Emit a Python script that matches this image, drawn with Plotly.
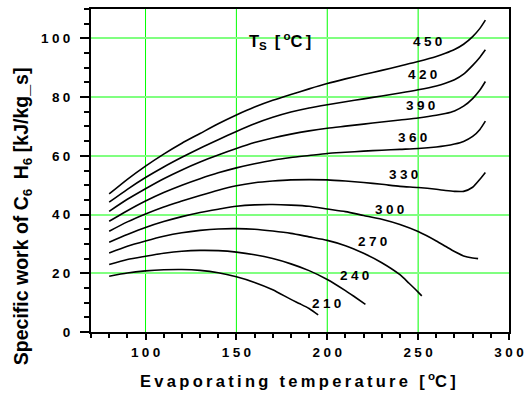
import plotly.graph_objects as go

# Saturation temperatures of the curve family [°C]
ts_levels = [210, 240, 270, 300, 330, 360, 390, 420, 450]

# Evaporating temperature [°C] and specific work [kJ/kg_s] for each Ts
evap_210 = [80, 90, 100, 110, 120, 130, 140, 150, 160, 170, 180, 185, 190, 195]
work_210 = [19.0, 20.1, 20.8, 21.2, 21.3, 21.0, 20.2, 18.8, 16.9, 14.4, 11.1, 9.6, 8.0, 5.8]

evap_240 = [80, 90, 100, 110, 120, 130, 140, 150, 160, 170, 180, 190, 200, 210, 215, 221]
work_240 = [23.0, 24.7, 25.8, 26.8, 27.5, 27.8, 27.7, 27.2, 26.3, 25.0, 23.2, 20.9, 17.9, 14.1, 12.0, 9.4]

evap_270 = [80, 90, 100, 110, 120, 130, 140, 150, 160, 170, 180, 190, 200, 210, 220, 230, 240, 245, 250, 252]
work_270 = [26.9, 29.2, 31.0, 32.6, 33.8, 34.6, 35.1, 35.2, 35.0, 34.4, 33.6, 32.4, 31.2, 29.4, 26.8, 23.6, 19.5, 16.6, 13.6, 12.3]

evap_300 = [80, 90, 100, 110, 120, 130, 140, 150, 160, 170, 180, 190, 200, 210, 220, 230, 240, 250, 260, 265, 270, 275, 280, 283]
work_300 = [30.6, 33.2, 35.6, 37.6, 39.3, 40.7, 41.8, 42.8, 43.3, 43.4, 43.2, 42.8, 41.9, 41.0, 39.7, 38.4, 36.6, 34.2, 31.0, 29.2, 27.4, 25.9, 25.2, 25.0]

evap_high = [80, 90, 100, 110, 120, 130, 140, 150, 160, 170, 180, 190, 200, 210, 220, 230, 240, 250, 260, 265, 270, 275, 280, 284, 287]
work_330 = [34.3, 37.5, 40.2, 42.6, 44.6, 46.5, 48.3, 49.8, 50.8, 51.4, 51.8, 51.9, 51.8, 51.4, 50.9, 50.3, 49.6, 49.2, 48.6, 48.2, 47.9, 47.9, 49.3, 52.0, 54.3]
work_360 = [37.7, 41.3, 44.6, 47.5, 50.0, 52.2, 54.2, 55.9, 57.3, 58.5, 59.4, 60.1, 60.8, 61.2, 61.6, 61.9, 62.2, 62.5, 63.0, 63.4, 64.0, 64.9, 66.6, 69.0, 71.8]
work_390 = [41.1, 45.2, 48.8, 52.2, 55.2, 57.9, 60.3, 62.5, 64.5, 66.1, 67.4, 68.5, 69.4, 70.1, 70.8, 71.5, 72.2, 72.9, 73.8, 74.4, 75.3, 76.9, 79.5, 82.4, 85.3]
work_420 = [44.2, 48.6, 52.6, 56.2, 59.5, 62.6, 65.5, 68.3, 70.9, 73.1, 74.9, 76.3, 77.4, 78.4, 79.4, 80.4, 81.4, 82.5, 83.8, 84.7, 85.9, 87.8, 90.8, 93.6, 96.1]
work_450 = [47.0, 52.0, 56.5, 60.6, 64.3, 67.6, 70.9, 73.9, 76.6, 78.9, 80.9, 82.8, 84.6, 86.2, 87.7, 89.1, 90.6, 92.1, 93.8, 94.9, 96.2, 98.0, 100.6, 103.4, 106.2]

x_ticks = [100, 150, 200, 250, 300]
y_ticks = [0, 20, 40, 60, 80, 100]

curves = {
    210: (evap_210, work_210),
    240: (evap_240, work_240),
    270: (evap_270, work_270),
    300: (evap_300, work_300),
    330: (evap_high, work_330),
    360: (evap_high, work_360),
    390: (evap_high, work_390),
    420: (evap_high, work_420),
    450: (evap_high, work_450),
}

# Where each Ts label sits (axis units)
label_anchor = {
    210: (199.7, 9.6), 240: (215.2, 19.2), 270: (224.8, 30.8),
    300: (234.3, 41.8), 330: (242.1, 53.7), 360: (247.0, 66.1),
    390: (251.2, 77.2), 420: (252.5, 87.6), 450: (255.2, 98.9),
}

FONT = "Liberation Sans, Arial, sans-serif"
THIN = "\u2009"
QUARTER = "\u2005"
GREEN = "#00ff00"


def spaced(s, sep=THIN):
    return sep.join(s)


fig = go.Figure()

# vertical grid lines at the major x ticks
for xv in x_ticks[:-1]:
    fig.add_shape(type="line", xref="x", yref="paper", x0=xv, x1=xv, y0=0, y1=1,
                  line=dict(color=GREEN, width=1), layer="below")

for ts in ts_levels:
    xs, ys = curves[ts]
    fig.add_trace(go.Scatter(
        x=xs, y=ys, mode="lines",
        line=dict(color="black", width=1.6, shape="spline", smoothing=0.7),
        showlegend=False, hoverinfo="skip",
    ))
    lx, ly = label_anchor[ts]
    fig.add_annotation(
        x=lx, y=ly, xref="x", yref="y", text="<b>" + spaced(str(ts), QUARTER) + "</b>",
        showarrow=False, font=dict(family=FONT, size=13.5, color="black"),
    )

# Curve-family caption
fig.add_annotation(
    x=174.1, y=99.0, xref="x", yref="y",
    text="<b>T<sub>S</sub>" + THIN + " [" + THIN + "<sup>o</sup>C" + THIN + "]</b>",
    showarrow=False, font=dict(family=FONT, size=16.5, color="black"),
)

# Axis titles
x_title = ("<b>" + spaced("Evaporating") + THIN + " " + THIN + spaced("temperature")
           + THIN + " " + THIN + "[" + THIN + "<sup>o</sup>C" + THIN + "]</b>")
fig.add_annotation(
    x=0.496, y=-(380 - 332) / (332 - 7), xref="paper", yref="paper",
    xanchor="center", yanchor="middle", text=x_title, showarrow=False,
    font=dict(family=FONT, size=16.5, color="black"),
)
fig.add_annotation(
    x=-(91 - 22) / (512 - 91), y=(332 - 215) / (332 - 7), xref="paper", yref="paper",
    xanchor="center", yanchor="middle", textangle=-90,
    text="<b>Specific work of C<sub>6</sub>" + THIN + " H<sub>6</sub> [kJ/kg_s]</b>",
    showarrow=False, font=dict(family=FONT, size=19.5, color="black"),
)

axis_common = dict(
    showline=True, linecolor="black", linewidth=2, mirror=True,
    ticks="outside", tickcolor="black", tickwidth=1.5,
    zeroline=False,
    tickfont=dict(family=FONT, size=13.5, color="black", weight="bold"),
)

fig.update_xaxes(
    **axis_common, range=[70, 300], showgrid=False,
    tickvals=x_ticks, ticktext=[spaced(str(v), QUARTER) for v in x_ticks],
    ticklen=6,
    minor=dict(tick0=70, dtick=10, ticks="outside", ticklen=4, tickcolor="black", tickwidth=1.5, showgrid=False),
    ticklabelstandoff=1,
)
fig.update_yaxes(
    **axis_common, range=[0, 110], showgrid=True,
    tickvals=y_ticks, ticktext=[spaced(str(v), QUARTER) for v in y_ticks],
    ticklen=9, gridcolor="#80ff80", gridwidth=2,
    minor=dict(tick0=0, dtick=5, ticks="outside", ticklen=5, tickcolor="black", tickwidth=1.5, showgrid=False),
    ticklabelstandoff=7,
)

fig.update_layout(
    width=531, height=395,
    margin=dict(l=91, r=19, t=7, b=63),
    paper_bgcolor="white", plot_bgcolor="white",
    showlegend=False,
)

fig.write_html("out.html")
